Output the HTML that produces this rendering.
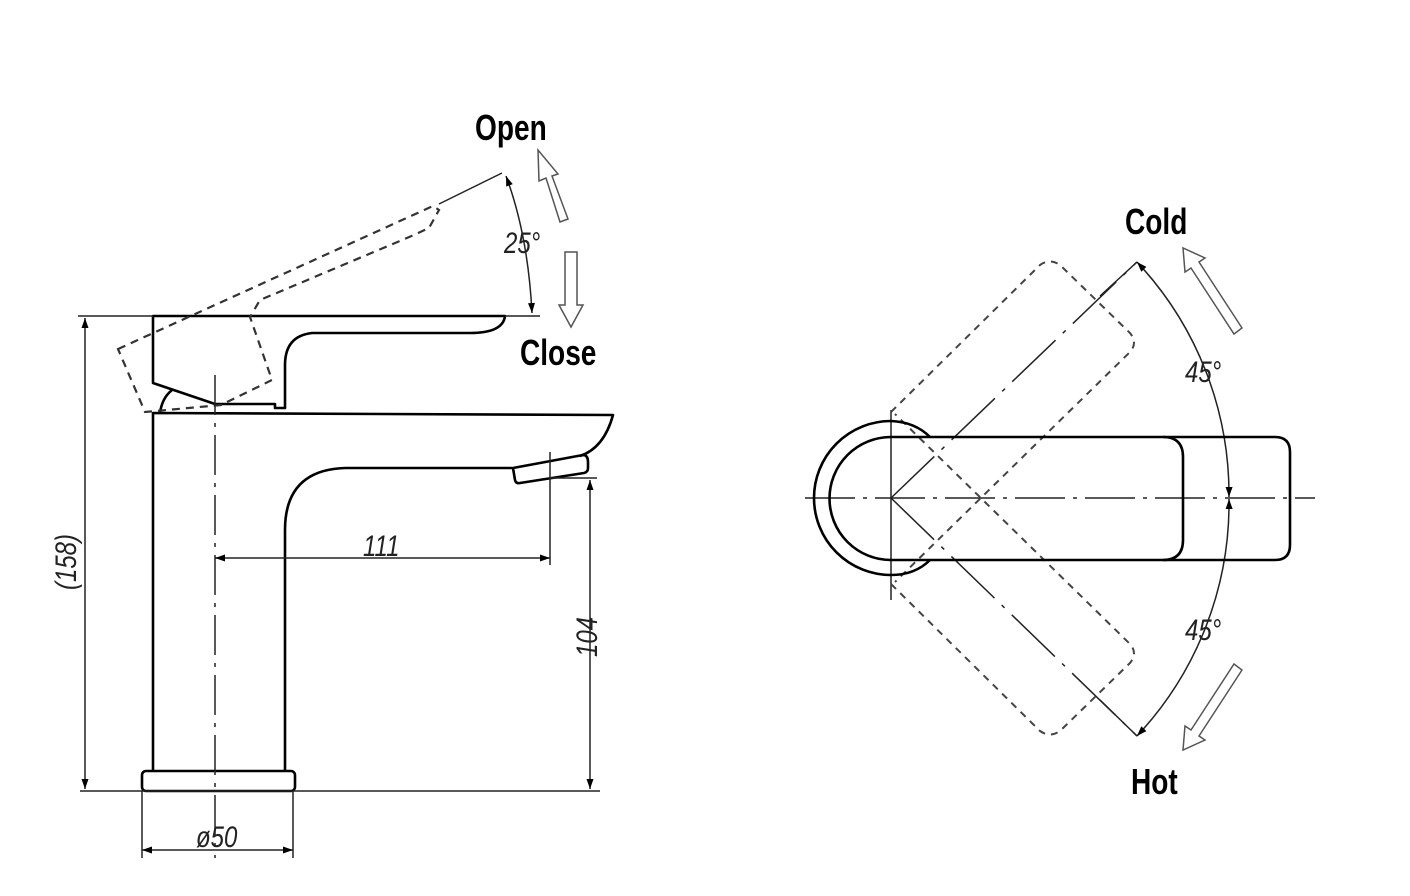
<!DOCTYPE html>
<html><head><meta charset="utf-8"><style>
html,body{margin:0;padding:0;background:#fff;}
svg{display:block;}
.t{font-family:"Liberation Sans",sans-serif;font-weight:bold;font-size:36px;fill:#000;}
.d{font-family:"Liberation Sans",sans-serif;font-style:italic;font-size:30px;fill:#222;}
</style></head><body>
<svg width="1410" height="896" viewBox="0 0 1410 896" xmlns="http://www.w3.org/2000/svg">
<defs>
<marker id="a" viewBox="0 0 10 10" refX="10" refY="5" markerWidth="16" markerHeight="10" markerUnits="userSpaceOnUse" orient="auto-start-reverse"><path d="M0,1.5 L10,5 L0,8.5 Z" fill="#000"/></marker>
</defs>
<g fill="none" stroke="#000" stroke-width="2.6" stroke-linejoin="round">
<path d="M153,316 L505,316 Q503,333 470,333 L312,333 Q285,336 285,365 L285,408 L275,408 L275,404 L215,404 L153,383 Z"/>
<path d="M160,413 Q162,398 172,390"/>
<path d="M153,771 L153,413 L613,415 Q604,448 580,456"/>
<path d="M512,468 L345,468 Q285,470 285,530 L285,771"/>
<path d="M513,468 L583,455 Q588,455 588,462 L588,468 Q588,472 584,473 L520,483 Q516,484 515,480 Z"/>
<rect x="142" y="771" width="153" height="20" rx="4"/>
</g>
<path d="M118,349 L433,206 L439,210 L429,228 L414,235 L260,300 L250,317 L272,380 L221,405 L145,412 Z" fill="none" stroke="#333" stroke-width="2.2" stroke-dasharray="8,6"/>
<g fill="none" stroke="#222" stroke-width="1.5">
<line x1="439" y1="204" x2="502" y2="173"/>
<line x1="505" y1="316" x2="540" y2="316"/>
<path d="M506,176 Q528,235 532,313" marker-start="url(#a)" marker-end="url(#a)"/>
<line x1="80" y1="791" x2="600" y2="791"/>
<line x1="78" y1="316" x2="153" y2="316"/>
<line x1="85" y1="318" x2="85" y2="789" marker-start="url(#a)" marker-end="url(#a)"/>
<line x1="215" y1="558" x2="550" y2="558" marker-start="url(#a)" marker-end="url(#a)"/>
<line x1="550" y1="452" x2="550" y2="565"/>
<line x1="550" y1="478" x2="597" y2="478"/>
<line x1="590" y1="480" x2="590" y2="789" marker-start="url(#a)" marker-end="url(#a)"/>
<line x1="142" y1="791" x2="142" y2="858"/>
<line x1="293" y1="791" x2="293" y2="858"/>
<line x1="142" y1="850" x2="293" y2="850" marker-start="url(#a)" marker-end="url(#a)"/>
<line x1="215" y1="375" x2="215" y2="858" stroke-dasharray="40,8,4,8"/>
</g>
<g fill="#fff" stroke="#555" stroke-width="1.5">
<path d="M560,222 L546,178 L539,181 L538,150 L558,174 L552,176 L568,219 Z"/>
<path d="M565,252 L577,252 L577,305 L583,305 L571,327 L559,305 L565,305 Z"/>
</g>
<text class="t" x="475" y="140" transform="translate(475,0) scale(0.78,1) translate(-475,0)">Open</text>
<text class="t" x="520" y="365" transform="translate(520,0) scale(0.78,1) translate(-520,0)">Close</text>
<text class="d" x="504" y="253" transform="translate(504,0) scale(0.8,1) translate(-504,0)">25°</text>
<text class="d" x="363" y="556" transform="translate(363,0) scale(0.8,1) translate(-363,0)">111</text>
<text class="d" x="196" y="847" transform="translate(196,0) scale(0.8,1) translate(-196,0)">ø50</text>
<text class="d" transform="translate(76,590) rotate(-90) scale(0.8,1)">(158)</text>
<text class="d" transform="translate(597,657) rotate(-90) scale(0.8,1)">104</text>

<g fill="none" stroke="#222" stroke-width="1.5">
<line x1="805" y1="498" x2="1315" y2="498" stroke-dasharray="50,8,4,8"/>
<line x1="891" y1="410" x2="891" y2="600"/>
<line x1="891" y1="498" x2="1137" y2="262" stroke-dasharray="60,10,4,10"/>
<line x1="891" y1="498" x2="1137" y2="736" stroke-dasharray="60,10,4,10"/>
<line x1="1100" y1="296" x2="1137" y2="262"/>
<line x1="1100" y1="700" x2="1137" y2="736"/>
<path d="M1137,262 A340,340 0 0 1 1229,497" marker-start="url(#a)" marker-end="url(#a)"/>
<path d="M1229,499 A340,340 0 0 1 1137,736" marker-start="url(#a)" marker-end="url(#a)"/>
</g>
<g fill="none" stroke="#444" stroke-width="2" stroke-dasharray="7,6">
<path d="M891,412 L1040,265 Q1050,258 1060,265 L1130,333 Q1138,343 1130,352 L895,582"/>
<path d="M891,584 L1040,731 Q1050,738 1060,731 L1130,663 Q1138,653 1130,644 L895,414"/>
</g>
<g fill="none" stroke="#000" stroke-width="2.6">
<path d="M930,437 L1275,437 Q1290,437 1290,452 L1290,545 Q1290,560 1275,560 L930,560"/>
<path d="M1163,437 Q1183,437 1183,457 L1183,540 Q1183,560 1163,560"/>
<path d="M930,437 Q915,422 891,421 A77,77 0 0 0 891,575 Q915,575 930,560"/>
<path d="M930,437 L891,437 A61,61 0 0 0 891,560 L930,560"/>
</g>
<g fill="#fff" stroke="#555" stroke-width="1.5">
<path d="M1242,328 L1199,262 L1205,258 L1183,248 L1185,272 L1191,268 L1234,334 Z"/>
<path d="M1242,670 L1199,736 L1205,740 L1183,750 L1185,726 L1191,730 L1234,664 Z"/>
</g>
<text class="t" x="1125" y="234" transform="translate(1125,0) scale(0.78,1) translate(-1125,0)">Cold</text>
<text class="t" x="1131" y="794" transform="translate(1131,0) scale(0.78,1) translate(-1131,0)">Hot</text>
<text class="d" x="1185" y="382" transform="translate(1185,0) scale(0.8,1) translate(-1185,0)">45°</text>
<text class="d" x="1185" y="640" transform="translate(1185,0) scale(0.8,1) translate(-1185,0)">45°</text>
</svg>
</body></html>
